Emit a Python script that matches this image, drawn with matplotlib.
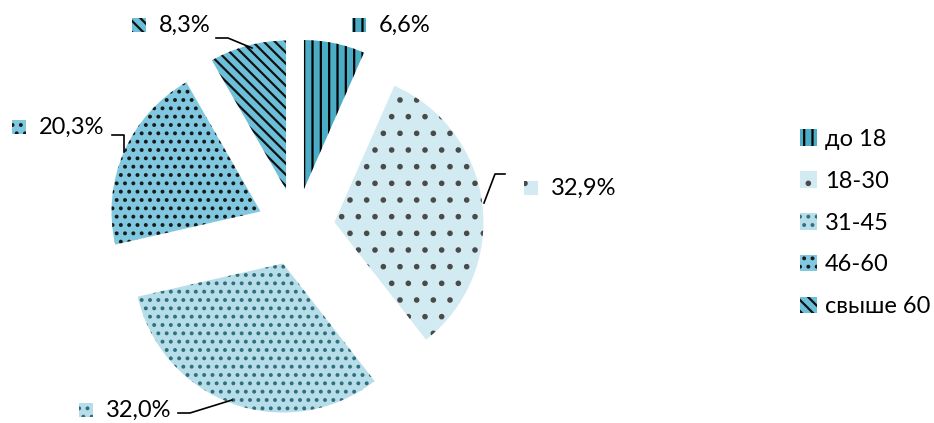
import matplotlib
matplotlib.use("Agg")
import matplotlib.pyplot as plt
from matplotlib.patches import Rectangle

# данные
categories = ["до 18", "18-30", "31-45", "46-60", "свыше 60"]
shares = [6.6, 32.9, 32.0, 20.3, 8.3]
pct_labels = ["6,6%", "32,9%", "32,0%", "20,3%", "8,3%"]

colors = ["#4BACC6", "#D2EAF1", "#B7DDE8", "#80C8E0", "#6CBFD8"]
hatch_colors = ["#000000", "#4a4a4a", "#2F6F80", "#1a1a1a", "#111111"]
hatches = ["||", ".", "..", "..", "\\\\\\"]

plt.rcParams["font.family"] = ["Lato", "DejaVu Sans"]
plt.rcParams["hatch.linewidth"] = 1.6

W, H = 934, 423
CX, CY, R = 296, 227, 149   # центр и радиус круга в пикселях

fig = plt.figure(figsize=(W / 100, H / 100), dpi=100)
ax = fig.add_axes([0, 0, 1, 1])

wedges, _ = ax.pie(shares, colors=colors, startangle=90, counterclock=False,
                   explode=[0.26] * len(shares), radius=1,
                   wedgeprops=dict(linewidth=0))
for w, hc, h in zip(wedges, hatch_colors, hatches):
    w.set_edgecolor(hc)
    w.set_hatch(h)
    w.set_linewidth(0)

ax.set_aspect("auto")
ax.set_xlim(-CX / R, (W - CX) / R)
ax.set_ylim((CY - H) / R, CY / R)
ax.axis("off")


def fp(x, y):
    return (x, H - y)


# подписи с ключами легенды
label_pos = [(379, 25), (551, 188), (106, 410), (39, 127), (159, 25)]
for i, (x, y) in enumerate(label_pos):
    ax.annotate(pct_labels[i], xy=fp(x, y), xycoords="figure pixels",
                ha="left", va="center", fontsize=17, color="#000000")
    kx, ky = fp(x - 27, y + 7)
    key = Rectangle((kx, ky), 14, 14, transform=None,
                    facecolor=colors[i], edgecolor=hatch_colors[i],
                    hatch=hatches[i], linewidth=0)
    fig.patches.append(key)

# выноски
leaders = [
    [(484, 203), (495, 174), (505, 174)],
    [(178, 413), (190, 413), (232, 400)],
    [(112, 135), (124, 135), (124, 152)],
    [(216, 38), (228, 38), (252, 48)],
]
for pts in leaders:
    xs = [p[0] for p in pts]
    ys = [H - p[1] for p in pts]
    fig.add_artist(plt.Line2D(xs, ys, transform=None, color="#000000", lw=1.2))

leg = fig.legend(wedges, categories, loc="upper left",
                 bbox_to_anchor=(800 / W, 1 - 129 / H),
                 frameon=False, fontsize=17, handlelength=0.7,
                 handleheight=0.7, handletextpad=0.35, labelspacing=0.88,
                 borderaxespad=0, borderpad=0)

fig.savefig("out.png", dpi=100)
